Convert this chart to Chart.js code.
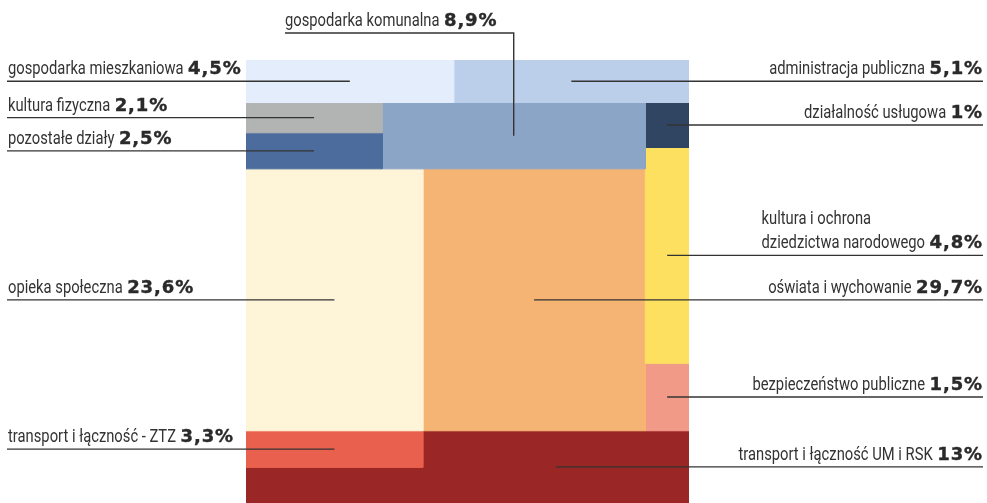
<!DOCTYPE html>
<html lang="pl">
<head>
<meta charset="utf-8">
<script src="https://cdn.jsdelivr.net/npm/chart.js@4.4.1/dist/chart.umd.min.js"></script>
<style>
  html, body { margin: 0; padding: 0; background: #fff; }
  #wrap { position: relative; width: 987px; height: 503px; overflow: hidden; }
  .lbl {
    position: absolute;
    font-family: Roboto, sans-serif;
    font-size: 18px;
    line-height: 24px;
    color: #333;
    white-space: nowrap;
    padding-bottom: 1px;
    transform: translateY(-100%);
  }
  .lbl.right { transform: translate(-100%, -100%); }
  .lbl .name { display: inline-block; transform-origin: left bottom; }
  .lbl b {
    font-family: "DejaVu Sans", sans-serif;
    font-weight: 700;
    font-size: 18px;
    letter-spacing: 0.9px;
    -webkit-text-stroke: 0.4px #2a2a2a;
    color: #2a2a2a;
  }
</style>
</head>
<body>
<div id="wrap"><canvas id="chart" width="987" height="503"></canvas></div>
<script>
// budget sections and their share of spending (%)
const codes = ['miesz', 'admin', 'kfiz', 'poz', 'kom', 'dzial', 'kult', 'opieka', 'oswiata', 'bezp', 'ztz', 'um'];
const categories = [
    'gospodarka mieszkaniowa',
    'administracja publiczna',
    'kultura fizyczna',
    'pozostałe działy',
    'gospodarka komunalna',
    'działalność usługowa',
    'kultura i ochrona\ndziedzictwa narodowego',
    'opieka społeczna',
    'oświata i wychowanie',
    'bezpieczeństwo publiczne',
    'transport i łączność - ZTZ',
    'transport i łączność UM i RSK'
];
const shares = [4.5, 5.1, 2.1, 2.5, 8.9, 1, 4.8, 23.6, 29.7, 1.5, 3.3, 13];

// styles
const fills = {
    miesz: '#e4edfb', admin: '#bccfea', kfiz: '#b2b3b3', poz: '#4b6c9d',
    kom: '#8ba5c7', dzial: '#2f4562', kult: '#fde060', opieka: '#fef4d7',
    oswiata: '#f6b474', bezp: '#f29a88', ztz: '#ea604e', um: '#9b2626'
};
const sides = {
    miesz: 'left', kfiz: 'left', poz: 'left', opieka: 'left', ztz: 'left',
    admin: 'right', dzial: 'right', kult: 'right', oswiata: 'right', bezp: 'right', um: 'right',
    kom: 'top'
};
const AREA = { left: 246, top: 60, size: 443 };
const LINE_L = 7, LINE_R = 983, TOP_LINE_Y = 33, TOP_LINE_X = 285;
const NARROW = 0.82; // condensed look of the label font

const toUx = px => (px - AREA.left) / AREA.size * 100;
const toUy = py => (py - AREA.top) / AREA.size * 100;

// slice-and-dice layout in a 100 x 100 square, areas follow the shares
function layout(v) {
    const r = {};
    const rect = (x0, y0, x1, y1) => ({
        pts: [[x0, y0], [x1, y0], [x1, y1], [x0, y1], [x0, y0]],
        ax: (x0 + x1) / 2, ay: (y0 + y1) / 2
    });
    const topH = v.miesz + v.admin;
    const xm = v.miesz / topH * 100;
    r.miesz = rect(0, 0, xm, topH);
    r.admin = rect(xm, 0, 100, topH);

    const botY = 100 - (v.ztz + v.um);
    const midH = botY - topH;
    const rw = (v.dzial + v.kult + v.bezp) * 100 / midH;
    const rx = 100 - rw;
    let y = topH;
    ['dzial', 'kult', 'bezp'].forEach(k => {
        const h = v[k] * 100 / rw;
        r[k] = rect(rx, y, 100, y + h);
        y += h;
    });

    const upH = (v.kfiz + v.poz + v.kom) * 100 / rx;
    const cw = (v.kfiz + v.poz) * 100 / upH;
    const yk = topH + v.kfiz * 100 / cw;
    r.kfiz = rect(0, topH, cw, yk);
    r.poz = rect(0, yk, cw, topH + upH);
    r.kom = rect(cw, topH, rx, topH + upH);

    const loY = topH + upH;
    const ow = v.opieka * 100 / (botY - loY);
    r.opieka = rect(0, loY, ow, botY);
    r.oswiata = rect(ow, loY, rx, botY);

    const zy = botY + v.ztz * 100 / ow;
    r.ztz = rect(0, botY, ow, zy);
    r.um = {
        pts: [[ow, botY], [100, botY], [100, 100], [0, 100], [0, zy], [ow, zy], [ow, botY]],
        ax: (ow + 100) / 2, ay: (botY + 100) / 2
    };
    return r;
}

const values = {};
codes.forEach((c, i) => values[c] = shares[i]);
const boxes = layout(values);

const toXY = p => ({ x: p[0], y: p[1] });

const rectSets = codes.map(c => ({
    label: c,
    data: boxes[c].pts.map(toXY),
    showLine: true,
    fill: 'shape',
    backgroundColor: fills[c],
    borderColor: fills[c],
    borderWidth: 1,
    pointRadius: 0,
    tension: 0,
    order: 2
}));

const leaderSets = codes.map(c => {
    const b = boxes[c];
    let pts;
    if (sides[c] === 'left') pts = [[toUx(LINE_L), b.ay], [b.ax, b.ay]];
    else if (sides[c] === 'right') pts = [[b.ax, b.ay], [toUx(LINE_R), b.ay]];
    else pts = [[b.ax, b.ay], [b.ax, toUy(TOP_LINE_Y)], [toUx(TOP_LINE_X), toUy(TOP_LINE_Y)]];
    return {
        label: c + '-line',
        data: pts.map(toXY),
        showLine: true,
        fill: false,
        borderColor: '#333',
        borderWidth: 1.4,
        pointRadius: 0,
        tension: 0,
        clip: false,
        order: 1
    };
});

const chart = new Chart(document.getElementById('chart'), {
    type: 'scatter',
    data: { datasets: rectSets.concat(leaderSets) },
    options: {
        responsive: false,
        animation: false,
        events: [],
        layout: {
            autoPadding: false,
            padding: { left: AREA.left, top: AREA.top, right: 987 - AREA.left - AREA.size, bottom: 503 - AREA.top - AREA.size }
        },
        scales: {
            x: { type: 'linear', min: 0, max: 100, display: false },
            y: { type: 'linear', min: 0, max: 100, reverse: true, display: false }
        },
        plugins: { legend: { display: false }, tooltip: { enabled: false } }
    }
});

// text labels above the leader lines
const wrap = document.getElementById('wrap');
const fmt = v => String(v).replace('.', ',') + '%';
codes.forEach((c, i) => {
    const b = boxes[c];
    const el = document.createElement('div');
    el.className = 'lbl' + (sides[c] === 'right' ? ' right' : '');
    const name = document.createElement('span');
    name.className = 'name';
    name.innerHTML = categories[i].replace('\n', '<br>');
    const pct = document.createElement('b');
    pct.textContent = fmt(shares[i]);
    el.appendChild(name);
    el.appendChild(document.createTextNode(' '));
    el.appendChild(pct);
    const py = chart.scales.y.getPixelForValue(b.ay);
    if (sides[c] === 'left') {
        el.style.left = (LINE_L + 1) + 'px';
        el.style.top = py + 'px';
    } else if (sides[c] === 'right') {
        el.style.left = LINE_R + 'px';
        el.style.top = py + 'px';
    } else {
        el.style.left = TOP_LINE_X + 'px';
        el.style.top = TOP_LINE_Y + 'px';
    }
    wrap.appendChild(el);
    const w = name.getBoundingClientRect().width;
    name.style.width = (w * NARROW) + 'px';
    name.style.transform = 'scaleX(' + NARROW + ')';
});
</script>
</body>
</html>
